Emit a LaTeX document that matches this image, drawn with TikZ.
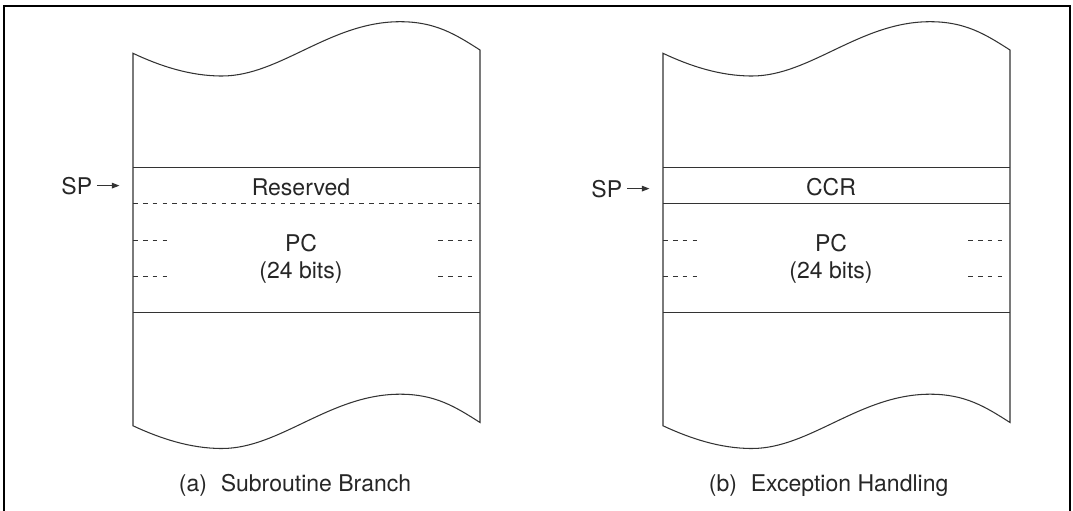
\documentclass[tikz,border=0pt]{standalone}
\usepackage{fontspec}
\setmainfont{TeX Gyre Heros}
\usetikzlibrary{arrows.meta}
\tikzset{
  col/.style={line width=0.6pt,black!80},
  dsh/.style={col,dash pattern=on 2.7pt off 2.9pt},
  lbl/.style={inner sep=0pt,anchor=base,text=black!85,font=\fontsize{13.1}{15}\selectfont},
  arr/.style={col,-{Triangle[length=1.5mm,width=1.1mm]}},
}
\begin{document}
\begin{tikzpicture}[x=0.02cm,y=-0.02cm]
\useasboundingbox (0,0) rectangle (1073,511);
%% outer frame, open at the bottom
\draw[line width=0.95pt] (3.8,520) -- (3.8,5.7) -- (1069.8,5.7) -- (1069.8,520);
%% both stacks
\foreach \dx/\c/\capt/\spy in {0/a/Subroutine Branch/194,530/b/Exception Handling/197}{
\begin{scope}[shift={(\dx,0)}]
  \draw[col] (133,53.3) .. controls (160,66) and (190,76) .. (222,76)
    .. controls (280,76) and (330,21.7) .. (400,21.7)
    .. controls (435,21.7) and (455,34) .. (480,50)
    -- (480,422.5)
    .. controls (455,406.5) and (435,394.2) .. (400,394.2)
    .. controls (330,394.2) and (280,448.5) .. (222,448.5)
    .. controls (190,448.5) and (160,438.3) .. (133,425.8) -- cycle;
  \draw[col] (133,167.5) -- (480,167.5);
  \draw[col] (133,312.5) -- (480,312.5);
  % short dashes beside PC
  \foreach \y in {240.5,276.7}{
  \draw[dsh] (133,\y) -- (172,\y);
  \draw[dsh] (438,\y) -- (476,\y);
  }
  \node[lbl] (pc\c) at (301,251.7) {PC};
  \node[lbl] (bits\c) at (301,278.3) {(24 bits)};
  % stack pointer
  \node[lbl,anchor=base east] (sp\c) at (92.5,\spy) {SP};
  \coordinate (tip\c) at ([xshift=0.54cm]sp\c.east);
  \draw[arr] ([xshift=0.09cm]sp\c.east) -- (tip\c);
  \node[lbl,anchor=base west] (cap\c) at (178.5,491.7) {(\c)\hspace{0.6em}\capt};
\end{scope}
}
% top entries
\node[lbl] (resv) at (301,195) {Reserved};
\draw[dsh] (133,203.3) -- (480,203.3);
\node[lbl] (ccr) at (831,195) {CCR};
\draw[col] (663,203.3) -- (1010,203.3);
\end{tikzpicture}
\end{document}
